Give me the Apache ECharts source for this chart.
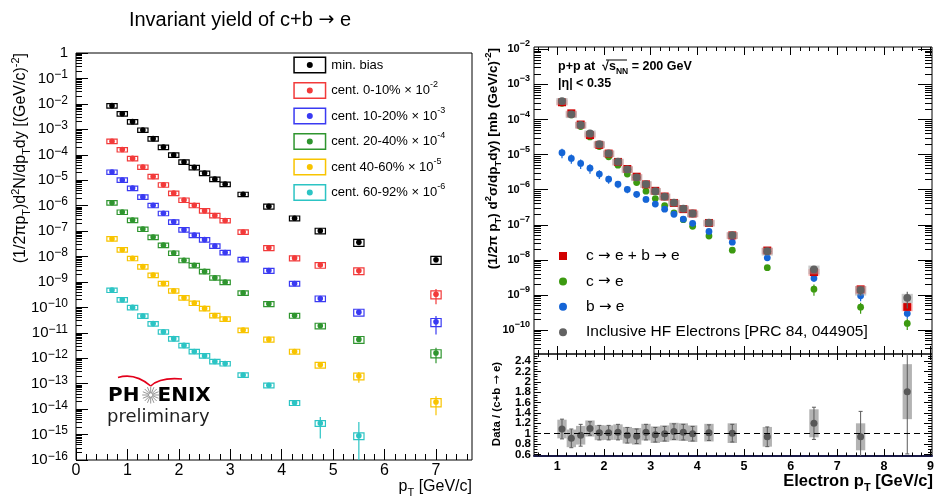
<!DOCTYPE html>
<html>
<head>
<meta charset="utf-8">
<title>Invariant yield of c+b → e</title>
<script src="https://cdn.jsdelivr.net/npm/echarts@6.0.0/dist/echarts.min.js"></script>
<style>
html,body{margin:0;padding:0;background:#ffffff;}
#chart{width:939px;height:500px;}
</style>
</head>
<body>
<div id="chart"></div>
<script>
// ================= LEFT PANEL : Au+Au invariant yield =================
const ptAuAu = [0.7,0.9,1.1,1.3,1.5,1.7,1.9,2.1,2.3,2.5,2.7,2.9,3.25,3.75,4.25,4.75,5.5,7.0];
const yMinBias   = [8.5e-3,4.1e-3,2.0e-3,9.4e-4,4.3e-4,2.0e-4,9.8e-5,5.2e-5,3.2e-5,1.9e-5,1.1e-5,7.0e-6,2.8e-6,9.4e-7,3.2e-7,1.03e-7,3.6e-8,7.5e-9];
const yCent0_10  = [3.4e-4,1.6e-4,7.2e-5,3.3e-5,1.4e-5,6.6e-6,3.1e-6,1.66e-6,1.03e-6,6.3e-7,4.1e-7,2.6e-7,9.2e-8,2.2e-8,8.7e-9,4.6e-9,2.75e-9,3.3e-10];
const yCent10_20 = [2.1e-5,1.02e-5,4.9e-6,2.2e-6,1.03e-6,5.0e-7,2.3e-7,1.13e-7,6.9e-8,4.6e-8,2.6e-8,1.44e-8,7.7e-9,2.8e-9,8.7e-10,2.24e-10,6.5e-11,2.7e-11];
const yCent20_40 = [1.3e-6,5.6e-7,2.7e-7,1.2e-7,5.8e-8,2.8e-8,1.37e-8,7.1e-9,4.5e-9,2.6e-9,1.46e-9,9.8e-10,3.7e-10,1.38e-10,4.8e-11,1.9e-11,5.5e-12,1.6e-12];
const yCent40_60 = [5.0e-8,1.85e-8,8.5e-9,4.0e-9,1.86e-9,8.7e-10,4.5e-10,2.4e-10,1.48e-10,9.1e-11,4.8e-11,3.5e-11,1.28e-11,5.5e-12,1.85e-12,5.5e-13,2.0e-13,1.9e-14];
const yCent60_92 = [4.8e-10,2.0e-10,1.0e-10,4.6e-11,2.3e-11,1.1e-11,5.9e-12,3.2e-12,1.85e-12,1.26e-12,7.5e-13,6.2e-13,2.2e-13,8.7e-14,1.78e-14,2.8e-15,9e-16,null];
// relative statistical errors
const statMinBias   = [0.03,0.03,0.03,0.03,0.03,0.03,0.03,0.03,0.03,0.03,0.04,0.04,0.05,0.05,0.06,0.08,0.1,0.2];
const statCent0_10  = [0.03,0.03,0.03,0.03,0.03,0.03,0.04,0.04,0.04,0.05,0.05,0.06,0.07,0.08,0.1,0.12,0.25,0.6];
const statCent10_20 = [0.03,0.03,0.03,0.03,0.03,0.04,0.04,0.04,0.05,0.05,0.06,0.06,0.08,0.1,0.12,0.15,0.2,0.68];
const statCent20_40 = [0.03,0.03,0.03,0.03,0.03,0.04,0.04,0.04,0.05,0.05,0.06,0.06,0.08,0.1,0.12,0.15,0.2,0.6];
const statCent40_60 = [0.03,0.03,0.03,0.04,0.04,0.04,0.05,0.05,0.06,0.06,0.07,0.08,0.1,0.12,0.15,0.2,0.45,0.7];
const statCent60_92 = [0.04,0.04,0.04,0.05,0.05,0.05,0.06,0.07,0.08,0.08,0.1,0.12,0.15,0.2,0.25,0.75,2.5,null];
// relative systematic errors (boxes)
const sysAuAu = [0.2,0.2,0.2,0.2,0.2,0.2,0.2,0.2,0.2,0.2,0.2,0.2,0.2,0.22,0.22,0.25,0.3,0.35];
const auauNames = ['min. bias','cent. 0-10% × 10^-2','cent. 10-20% × 10^-3','cent. 20-40% × 10^-4','cent 40-60% × 10^-5','cent. 60-92% × 10^-6'];

// ================= RIGHT PANEL : p+p =================
const ptPP = [1.1,1.3,1.5,1.7,1.9,2.1,2.3,2.5,2.7,2.9,3.1,3.3,3.5,3.7,3.9,4.25,4.75,5.5,6.5,7.5,8.5];
const ppInclusive = [3.36e-4,1.41e-4,7.0e-5,4.0e-5,2.0e-5,1.09e-5,6.3e-6,3.8e-6,2.25e-6,1.45e-6,9.1e-7,6.4e-7,4.3e-7,2.9e-7,2.1e-7,1.15e-7,5.1e-8,1.78e-8,5.4e-9,1.38e-9,8.3e-10];
const ppCplusB    = [3.1e-4,1.5e-4,7.2e-5,3.6e-5,1.9e-5,1.07e-5,6.2e-6,3.9e-6,2.35e-6,1.42e-6,9.3e-7,6.4e-7,4.2e-7,2.8e-7,2.1e-7,1.13e-7,5.0e-8,1.85e-8,4.5e-9,1.45e-9,4.6e-10];
const ppCtoE      = [2.9e-4,1.35e-4,6.3e-5,3.2e-5,1.7e-5,8.7e-6,5.0e-6,2.8e-6,1.6e-6,9.1e-7,5.6e-7,3.5e-7,2.2e-7,1.4e-7,9.1e-8,4.8e-8,1.9e-8,6.0e-9,1.47e-9,4.5e-10,1.55e-10];
const ppBtoE      = [1.13e-5,7.8e-6,5.6e-6,4.1e-6,2.8e-6,2.0e-6,1.44e-6,1.02e-6,7.4e-7,5.3e-7,3.9e-7,2.8e-7,2.0e-7,1.45e-7,1.1e-7,6.5e-8,3.2e-8,1.15e-8,3.0e-9,9.5e-10,3.0e-10];
const errInclusive = [0.06,0.06,0.06,0.06,0.06,0.06,0.06,0.06,0.06,0.06,0.07,0.07,0.07,0.08,0.08,0.08,0.1,0.12,0.15,0.3,0.5];
const errCplusB    = [0.05,0.05,0.05,0.05,0.05,0.05,0.05,0.05,0.05,0.05,0.05,0.05,0.05,0.05,0.05,0.05,0.05,0.05,0.08,0.1,0.15];
const errCtoE      = [0.05,0.05,0.05,0.06,0.06,0.07,0.07,0.08,0.08,0.08,0.08,0.09,0.09,0.1,0.1,0.1,0.12,0.15,0.35,0.35,0.35];
const errBtoE      = [0.3,0.3,0.3,0.3,0.28,0.26,0.24,0.22,0.2,0.18,0.17,0.16,0.15,0.15,0.14,0.14,0.14,0.15,0.2,0.3,0.3];
const sysInclusive = [0.22,0.22,0.22,0.22,0.22,0.22,0.22,0.22,0.22,0.22,0.22,0.22,0.22,0.22,0.22,0.22,0.22,0.25,0.28,0.3,0.3];
const sysCplusB    = [0.2,0.2,0.2,0.2,0.2,0.2,0.2,0.2,0.2,0.2,0.2,0.2,0.2,0.2,0.2,0.2,0.2,0.2,0.22,0.25,0.25];
const ppNames = ['c → e + b → e','c → e','b → e','Inclusive HF Electrons [PRC 84, 044905]'];
// ratio Data/(c+b -> e)
const ratioVal  = [1.09,0.91,0.97,1.10,1.02,1.02,1.03,0.97,0.95,1.03,0.98,1.00,1.04,1.03,1.00,1.02,1.01,0.94,1.20,0.94,1.81];
const ratioStat = [0.19,0.18,0.21,0.13,0.14,0.14,0.15,0.15,0.14,0.15,0.14,0.14,0.15,0.15,0.14,0.15,0.17,0.19,0.31,0.49,1.2];
const ratioSys  = [0.18,0.17,0.18,0.155,0.145,0.14,0.15,0.16,0.16,0.16,0.16,0.16,0.17,0.17,0.16,0.17,0.19,0.19,0.27,0.26,0.53];

// ================= tick labels =================
const auauXTicks = [0,1,2,3,4,5,6,7];
const auauYDecades = [-16,-15,-14,-13,-12,-11,-10,-9,-8,-7,-6,-5,-4,-3,-2,-1,0];
const ppXTicks = [1,2,3,4,5,6,7,8,9];
const ppYDecades = [-10,-9,-8,-7,-6,-5,-4,-3,-2];
const ratioYTicks = [0.6,0.8,1.0,1.2,1.4,1.6,1.8,2.0,2.2,2.4];

// ================= helpers =================
const FONT = '"Liberation Sans", Arial, Helvetica, sans-serif';
const LOGO_FONT = '"DejaVu Sans", Verdana, sans-serif';
const ARROW_FONT = '"DejaVu Sans", sans-serif';
const AUAU_X = [0, 7.7], AUAU_Y = [-16, 0];
const PP_X = [0.5, 9.03], PP_Y = [-10.68, -1.934], RATIO_Y = [0.57, 2.536];

function logMinor(lo, hi) { const out = []; for (let n = lo; n < hi; n++) for (let k = 2; k <= 9; k++) out.push(n + Math.log10(k)); return out; }
function linMinor(a, b, step) { const out = []; const n = Math.round((b - a) / step); for (let i = 0; i <= n; i++) out.push(+(a + i * step).toFixed(4)); return out; }
function arrows(s) { return s.replace(/→/g, '{ar|→}'); }

function logItem(x, y, e, sys, yr) {
  const lo = y * (1 - e);
  return [x, Math.log10(y),
    Math.min(Math.log10(y * (1 + e)), yr[1]),
    lo > 0 ? Math.max(Math.log10(lo), yr[0]) : yr[0],
    Math.log10(y * (1 + sys)), Math.log10(y * (1 - sys))];
}

function powLabel(v) {
  const n = Math.round(v);
  if (n === 0) return '1';
  return '{b|10}{s|' + (n < 0 ? '−' : '') + Math.abs(n) + '}';
}

// labelVals: values shown as labels on this axis (may differ from tick values)
function mkAxis(gridIndex, position, range, tickVals, tickLen, label, line, labelVals) {
  return {
    type: 'value', gridIndex: gridIndex, position: position, min: range[0], max: range[1],
    axisLine: line ? { show: true, onZero: false, lineStyle: line } : { show: false, onZero: false },
    axisTick: { show: true, inside: true, length: tickLen, customValues: tickVals, lineStyle: { color: '#000', width: 1 } },
    axisLabel: label ? Object.assign({ show: true, customValues: labelVals || tickVals, showMinLabel: true, showMaxLabel: true, hideOverlap: false }, label) : { show: false },
    splitLine: { show: false }, minorTick: { show: false }, minorSplitLine: { show: false },
    axisPointer: { show: false }, silent: true
  };
}

// ---- renderers ----
function auauRender(color) {
  return function (params, api) {
    const x = api.value(0);
    const c = api.coord([x, api.value(1)]);
    const eHi = api.coord([x, api.value(2)]);
    const eLo = api.coord([x, api.value(3)]);
    const tl = api.coord([x - 0.1, api.value(4)]);
    const br = api.coord([x + 0.1, api.value(5)]);
    return { type: 'group', children: [
      { type: 'line', shape: { x1: c[0], y1: eHi[1], x2: c[0], y2: eLo[1] }, style: { stroke: color, lineWidth: 1.2 } },
      { type: 'rect', shape: { x: tl[0], y: tl[1], width: br[0] - tl[0], height: br[1] - tl[1] }, style: { fill: 'none', stroke: color, lineWidth: 1.2 } },
      { type: 'circle', shape: { cx: c[0], cy: c[1], r: 2.8 }, style: { fill: color } }
    ] };
  };
}
function ppRender(color, marker, boxFill) {
  return function (params, api) {
    const x = api.value(0);
    const c = api.coord([x, api.value(1)]);
    const eHi = api.coord([x, api.value(2)]);
    const eLo = api.coord([x, api.value(3)]);
    const ch = [];
    if (boxFill) {
      const tl = api.coord([x - 0.12, api.value(4)]);
      const br = api.coord([x + 0.12, api.value(5)]);
      ch.push({ type: 'rect', shape: { x: tl[0], y: tl[1], width: br[0] - tl[0], height: br[1] - tl[1] }, style: { fill: boxFill } });
    }
    ch.push({ type: 'line', shape: { x1: c[0], y1: eHi[1], x2: c[0], y2: eLo[1] }, style: { stroke: color, lineWidth: 1.2 } });
    if (marker === 'square') ch.push({ type: 'rect', shape: { x: c[0] - 4, y: c[1] - 4, width: 8, height: 8 }, style: { fill: color } });
    else ch.push({ type: 'circle', shape: { cx: c[0], cy: c[1], r: marker === 'big' ? 3.9 : 3.4 }, style: { fill: color } });
    return { type: 'group', children: ch };
  };
}
function ratioRender(params, api) {
  const x = api.value(0);
  const c = api.coord([x, api.value(1)]);
  const eHi = api.coord([x, api.value(2)]);
  const eLo = api.coord([x, api.value(3)]);
  const tl = api.coord([x - 0.1, api.value(4)]);
  const br = api.coord([x + 0.1, api.value(5)]);
  const ch = [
    { type: 'rect', shape: { x: tl[0], y: tl[1], width: br[0] - tl[0], height: br[1] - tl[1] }, style: { fill: '#b3b3b3' } },
    { type: 'line', shape: { x1: c[0], y1: eHi[1], x2: c[0], y2: eLo[1] }, style: { stroke: '#5a5a5a', lineWidth: 1 } }
  ];
  if (!api.value(6)) ch.push({ type: 'line', shape: { x1: c[0] - 2, y1: eHi[1], x2: c[0] + 2, y2: eHi[1] }, style: { stroke: '#5a5a5a', lineWidth: 1 } });
  if (!api.value(7)) ch.push({ type: 'line', shape: { x1: c[0] - 2, y1: eLo[1], x2: c[0] + 2, y2: eLo[1] }, style: { stroke: '#5a5a5a', lineWidth: 1 } });
  ch.push({ type: 'circle', shape: { cx: c[0], cy: c[1], r: 3.5 }, style: { fill: '#585858' } });
  return { type: 'group', children: ch };
}

// ---- series ----
const auauDefs = [
  { y: yMinBias,   e: statMinBias,   color: '#000000' },
  { y: yCent0_10,  e: statCent0_10,  color: '#f23a3a' },
  { y: yCent10_20, e: statCent10_20, color: '#3a3af2' },
  { y: yCent20_40, e: statCent20_40, color: '#2f952f' },
  { y: yCent40_60, e: statCent40_60, color: '#f8c400' },
  { y: yCent60_92, e: statCent60_92, color: '#2cc4c4' }
];
const series = auauDefs.map((d, k) => ({
  type: 'custom', name: auauNames[k], coordinateSystem: 'cartesian2d', xAxisIndex: 0, yAxisIndex: 0,
  itemStyle: { color: d.color }, clip: true, silent: true, renderItem: auauRender(d.color),
  encode: { x: 0, y: 1 },
  data: ptAuAu.map((x, i) => d.y[i] == null ? null : logItem(x, d.y[i], d.e[i], sysAuAu[i], AUAU_Y)).filter(v => v)
}));

const ppDefs = [
  { name: ppNames[1], y: ppCtoE, e: errCtoE, sys: null, color: '#3c9a10', marker: 'circle', box: null },
  { name: ppNames[2], y: ppBtoE, e: errBtoE, sys: null, color: '#1565d6', marker: 'circle', box: null },
  { name: ppNames[0], y: ppCplusB, e: errCplusB, sys: sysCplusB, color: '#d10000', marker: 'square', box: 'rgba(255,120,120,0.45)' },
  { name: ppNames[3], y: ppInclusive, e: errInclusive, sys: sysInclusive, color: '#626262', marker: 'big', box: 'rgba(150,150,150,0.5)' }
];
ppDefs.forEach(d => series.push({
  type: 'custom', name: d.name, coordinateSystem: 'cartesian2d', xAxisIndex: 2, yAxisIndex: 2,
  itemStyle: { color: d.color }, clip: true, silent: true, renderItem: ppRender(d.color, d.marker, d.box),
  encode: { x: 0, y: 1 },
  data: ptPP.map((x, i) => logItem(x, d.y[i], d.e[i], d.sys ? d.sys[i] : 0, PP_Y))
}));

series.push({
  type: 'custom', name: 'Data / (c+b → e)', coordinateSystem: 'cartesian2d', xAxisIndex: 6, yAxisIndex: 6,
  itemStyle: { color: '#585858' }, clip: true, silent: true, renderItem: ratioRender,
  encode: { x: 0, y: 1 },
  data: ptPP.map((x, i) => {
    const r = ratioVal[i], hi = r + ratioStat[i], lo = r - ratioStat[i];
    return [x, r, Math.min(hi, RATIO_Y[1]), Math.max(lo, RATIO_Y[0]), r + ratioSys[i], r - ratioSys[i],
      hi > RATIO_Y[1] ? 1 : 0, lo < RATIO_Y[0] ? 1 : 0];
  }),
  markLine: { silent: true, symbol: ['none', 'none'], label: { show: false }, animation: false,
    lineStyle: { color: '#000', type: [6, 4], width: 1.2 }, data: [{ yAxis: 1 }] }
});

// ---- axes ----
const lblAuAuX = { formatter: v => String(Math.round(v)), margin: 3, fontFamily: FONT, fontSize: 16, color: '#000' };
const lblAuAuY = { formatter: powLabel, margin: 8, fontFamily: FONT, fontSize: 15, lineHeight: 19, color: '#000',
  rich: { b: { fontFamily: FONT, fontSize: 15, lineHeight: 19, color: '#000' },
          s: { fontFamily: FONT, fontSize: 12, lineHeight: 12, verticalAlign: 'top', color: '#000' } } };
const lblPPY = { formatter: powLabel, margin: 4, fontFamily: FONT, fontWeight: 'bold', fontSize: 11, lineHeight: 20, color: '#000',
  rich: { b: { fontFamily: FONT, fontWeight: 'bold', fontSize: 11, lineHeight: 20, color: '#000' },
          s: { fontFamily: FONT, fontWeight: 'bold', fontSize: 9, lineHeight: 9, verticalAlign: 'top', color: '#000' } } };
const lblPPX = { formatter: v => String(Math.round(v)), margin: 4, fontFamily: FONT, fontWeight: 'bold', fontSize: 12.5, color: '#000' };
const lblRatio = { formatter: v => String(Math.round(v * 10) / 10), margin: 3, fontFamily: FONT, fontWeight: 'bold', fontSize: 11.5, lineHeight: 10, color: '#000' };
// ratio labels are split over two overlaid axes so that neighbouring labels never collide
const ratioLabelsA = ratioYTicks.filter((v, i) => i % 2 === 0);
const ratioLabelsB = ratioYTicks.filter((v, i) => i % 2 === 1);

const auauXMinor = linMinor(0, 7.6, 0.2);
const ppXMinor = linMinor(0.6, 9.0, 0.2);
const auauYMinor = logMinor(-16, 0);
const ppYMinor = logMinor(-11, -1);
const ratioYMinor = linMinor(0.6, 2.5, 0.05);

const xAxis = [
  mkAxis(0, 'bottom', AUAU_X, auauXTicks, 11, lblAuAuX),
  mkAxis(0, 'bottom', AUAU_X, auauXMinor, 6),
  mkAxis(1, 'bottom', PP_X, ppXTicks, 8),
  mkAxis(1, 'bottom', PP_X, ppXMinor, 4),
  mkAxis(1, 'top', PP_X, ppXTicks, 8),
  mkAxis(1, 'top', PP_X, ppXMinor, 4),
  mkAxis(2, 'bottom', PP_X, ppXTicks, 7, lblPPX, { color: '#1a1a48', width: 2 }),
  mkAxis(2, 'bottom', PP_X, ppXMinor, 3.5),
  mkAxis(2, 'top', PP_X, ppXTicks, 6),
  mkAxis(2, 'top', PP_X, ppXMinor, 3)
];
const yAxis = [
  mkAxis(0, 'left', AUAU_Y, auauYDecades, 12, lblAuAuY),
  mkAxis(0, 'left', AUAU_Y, auauYMinor, 6),
  mkAxis(1, 'left', PP_Y, ppYDecades, 14, lblPPY),
  mkAxis(1, 'left', PP_Y, ppYMinor, 7),
  mkAxis(1, 'right', PP_Y, ppYDecades, 14),
  mkAxis(1, 'right', PP_Y, ppYMinor, 7),
  mkAxis(2, 'left', RATIO_Y, ratioYTicks, 7, lblRatio, null, ratioLabelsA),
  mkAxis(2, 'left', RATIO_Y, ratioYMinor, 3.5, lblRatio, null, ratioLabelsB),
  mkAxis(2, 'right', RATIO_Y, ratioYTicks, 8),
  mkAxis(2, 'right', RATIO_Y, ratioYMinor, 4)
];

// ---- legend icon: outlined box with a dot ----
const BOX_ICON = 'path://M0 0H66V34H0Z M3 3V31H63V3Z M27 17A6 6 0 1 0 39 17A6 6 0 1 0 27 17Z';

// ---- graphics: titles and annotations ----
function txt(x, y, text, o) {
  return Object.assign({ type: 'text', x: x, y: y, silent: true,
    style: Object.assign({ text: text, fontFamily: FONT, fontSize: 14, fill: '#000', align: 'left', verticalAlign: 'middle' }, o.style || {}) },
    o.el || {});
}
function rs(size, weight, va, lh, fam) { return { fontFamily: fam || FONT, fontSize: size, fontWeight: weight, lineHeight: lh || size, verticalAlign: va, fill: '#000' }; }

const graphics = [
  txt(240, 20, arrows('Invariant yield of c+b → e'), { style: { fontSize: 20, lineHeight: 24, align: 'center', rich: { ar: rs(19, 'normal', 'middle', 24, ARROW_FONT) } } }),
  txt(21, 53, '(1/2πp{sub|T})d{sup|2}N/dp{sub|T}dy [(GeV/c){sup|-2}]', { el: { rotation: Math.PI / 2 },
    style: { fontSize: 16, lineHeight: 22, align: 'right', rich: { sub: rs(11, 'normal', 'bottom'), sup: rs(11, 'normal', 'top') } } }),
  txt(472, 487, 'p{sub|T} [GeV/c]', { style: { fontSize: 16, lineHeight: 22, align: 'right', rich: { sub: rs(11, 'normal', 'bottom') } } }),
  txt(493, 48, '(1/2π p{sub|T}) d{sup|2}σ/dp{sub|T}dy) [mb (GeV/c){sup|-2}]', { el: { rotation: Math.PI / 2 },
    style: { fontSize: 13.5, fontWeight: 'bold', lineHeight: 20, align: 'right', rich: { sub: rs(9.5, 'bold', 'bottom'), sup: rs(9.5, 'bold', 'top') } } }),
  txt(497, 404, arrows('Data / (c+b → e)'), { el: { rotation: Math.PI / 2 },
    style: { fontSize: 11.5, fontWeight: 'bold', lineHeight: 14, align: 'center', rich: { ar: rs(11, 'normal', 'middle', 14, ARROW_FONT) } } }),
  txt(933, 481, 'Electron p{sub|T} [GeV/c]', { style: { fontSize: 16.5, fontWeight: 'bold', lineHeight: 24, align: 'right', rich: { sub: rs(11, 'bold', 'bottom') } } }),
  txt(558, 67, 'p+p at  √s{sub|NN} = 200 GeV', { style: { fontSize: 12.5, fontWeight: 'bold', lineHeight: 18, rich: { sub: rs(8.5, 'bold', 'bottom') } } }),
  { type: 'line', silent: true, shape: { x1: 606, y1: 60, x2: 627, y2: 60 }, style: { stroke: '#000', lineWidth: 1 } },
  txt(558, 84, '|η| < 0.35', { style: { fontSize: 12.5, fontWeight: 'bold' } }),
  // PHENIX preliminary logo
  { type: 'bezierCurve', silent: true, shape: { x1: 118, y1: 377.5, x2: 150.7, y2: 386, cpx1: 135, cpy1: 372.5 }, style: { stroke: '#e3001b', lineWidth: 1.6, fill: 'none' } },
  { type: 'bezierCurve', silent: true, shape: { x1: 150.7, y1: 386, x2: 182, y2: 379, cpx1: 160, cpy1: 377 }, style: { stroke: '#e3001b', lineWidth: 1.6, fill: 'none' } },
  txt(108, 395.5, 'PH', { style: { fontFamily: LOGO_FONT, fontWeight: 'bold', fontSize: 20 } }),
  txt(157.5, 395.5, 'ENIX', { style: { fontFamily: LOGO_FONT, fontWeight: 'bold', fontSize: 20 } }),
  txt(107, 417, 'preliminary', { style: { fontFamily: LOGO_FONT, fontSize: 18, fill: '#1e1e1e' } })
];
for (let i = 0; i < 16; i++) {
  const a = i * Math.PI / 8;
  graphics.push({ type: 'line', silent: true,
    shape: { x1: 150.7 + 2.2 * Math.cos(a), y1: 395 + 2.2 * Math.sin(a), x2: 150.7 + 8.5 * Math.cos(a), y2: 395 + 8.5 * Math.sin(a) },
    style: { stroke: '#8a8a8a', lineWidth: 0.9 } });
}
graphics.push({ type: 'circle', silent: true, shape: { cx: 150.7, cy: 395, r: 2.2 }, style: { fill: 'none', stroke: '#8a8a8a', lineWidth: 0.8 } });

const option = {
  animation: false,
  backgroundColor: '#ffffff',
  grid: [
    { left: 76, top: 53, width: 396, height: 407, show: true, borderColor: '#000', borderWidth: 1, backgroundColor: 'transparent' },
    { left: 534, top: 47, width: 398, height: 307, show: true, borderColor: '#000', borderWidth: 1, backgroundColor: 'transparent' },
    { left: 534, top: 354, width: 398, height: 102, show: true, borderColor: '#000', borderWidth: 1, backgroundColor: 'transparent' }
  ],
  xAxis: xAxis,
  yAxis: yAxis,
  legend: [
    {
      data: auauNames.map(n => ({ name: n, icon: BOX_ICON })),
      orient: 'vertical', left: 293.3, top: 55, itemWidth: 33, itemHeight: 17, itemGap: 5.5, padding: 0,
      selectedMode: false, symbolKeepAspect: true, itemStyle: { borderWidth: 0 },
      formatter: n => n.replace(/\^(-?\d+)/, '{sup|$1}'),
      textStyle: { fontFamily: FONT, fontSize: 13, lineHeight: 20, color: '#000',
        rich: { sup: { fontFamily: FONT, fontSize: 9, lineHeight: 9, verticalAlign: 'top', color: '#000' } } }
    },
    {
      data: [
        { name: ppNames[0], icon: 'path://M0 0H10V10H0Z' },
        { name: ppNames[1], icon: 'circle' },
        { name: ppNames[2], icon: 'circle' },
        { name: ppNames[3], icon: 'circle' }
      ],
      orient: 'vertical', left: 559, top: 247, itemWidth: 36, itemHeight: 8, itemGap: 7.4, padding: 0,
      selectedMode: false, symbolKeepAspect: true, itemStyle: { borderWidth: 0 },
      formatter: n => arrows(n),
      textStyle: { fontFamily: FONT, fontSize: 15.5, lineHeight: 18, color: '#000',
        rich: { ar: { fontFamily: ARROW_FONT, fontSize: 15, lineHeight: 18, color: '#000' } } }
    }
  ],
  graphic: graphics,
  series: series
};

const chart = echarts.init(document.getElementById('chart'), null, { renderer: 'canvas' });
chart.setOption(option);
</script>
</body>
</html>
